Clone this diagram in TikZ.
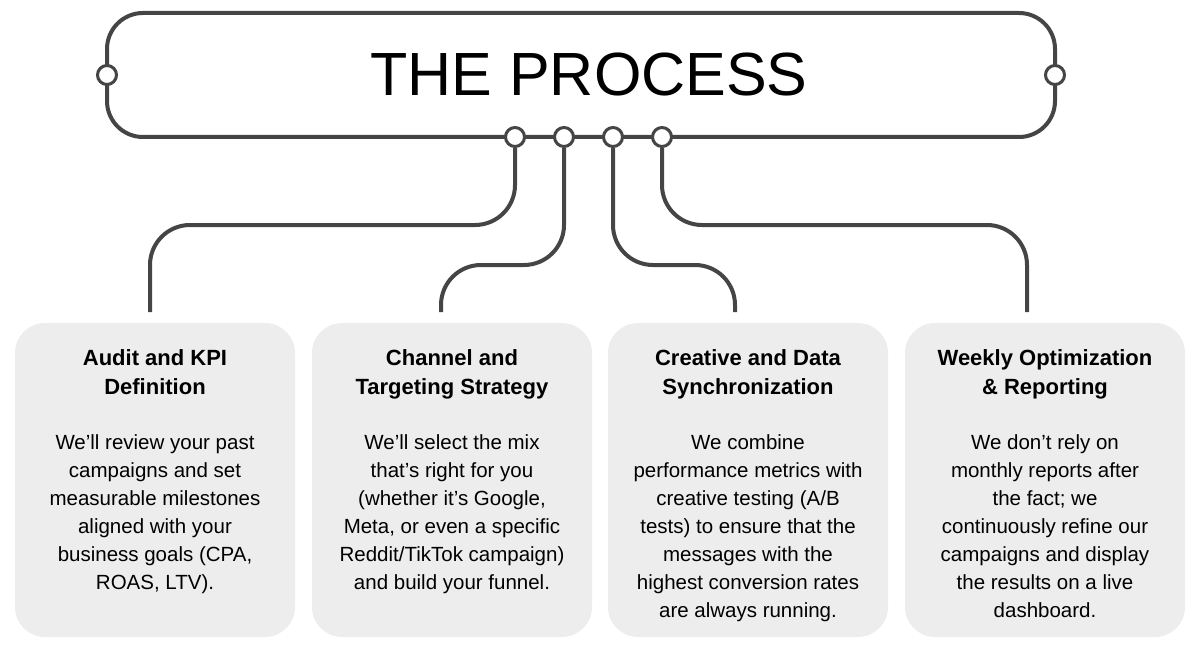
\documentclass[tikz,border=0pt]{standalone}
\usepackage{fontspec}
\setmainfont{Liberation Sans}
\usetikzlibrary{calc}
\definecolor{linegray}{HTML}{454545}
\definecolor{cardgray}{HTML}{EDEDED}
\tikzset{
  conn/.style={draw=linegray,line width=4pt,rounded corners=40pt},
  knob/.style={circle,draw=linegray,line width=3pt,fill=white,minimum size=19pt,inner sep=0pt},
  card/.style={fill=cardgray,rounded corners=30pt,minimum width=280pt,minimum height=314pt,inner sep=0pt},
  cardtext/.style={align=center,font=\fontsize{20.5}{28}\selectfont},
  cardhead/.style={align=center,font=\bfseries\fontsize{22}{29}\selectfont}
}
\begin{document}
\begin{tikzpicture}[x=1pt,y=-1pt]
    \useasboundingbox (0,0) rectangle (1200,650);
    % title bar
    \draw [draw=linegray,line width=4pt,rounded corners=36pt] (107,13) rectangle (1055,137);
    \node [font=\fontsize{61}{61}\selectfont] (title) at (589,75) {THE PROCESS};
    \node [knob] (kl) at (107,75) {};
    \node [knob] (kr) at (1055,75) {};
    \node [knob] (k1) at (515,137) {};
    \node [knob] (k2) at (564,137) {};
    \node [knob] (k3) at (613,137) {};
    \node [knob] (k4) at (662,137) {};

    % cards
    \node [card] (b1) at (155,480) {};
    \node [card] (b2) at (452,480) {};
    \node [card] (b3) at (748,480) {};
    \node [card] (b4) at (1045,480) {};

    \coordinate (e1) at (150,312);
    \coordinate (e2) at (441,312);
    \coordinate (e3) at (735,312);
    \coordinate (e4) at (1027,312);

    \draw [conn] (k1.south) -- (k1.south |- 0,225) -- (e1 |- 0,225) -- (e1);
    \draw [conn] (k2.south) -- (k2.south |- 0,265) -- (e2 |- 0,265) -- (e2);
    \draw [conn] (k3.south) -- (k3.south |- 0,265) -- (e3 |- 0,265) -- (e3);
    \draw [conn] (k4.south) -- (k4.south |- 0,225) -- (e4 |- 0,225) -- (e4);

    % texts
    \node [cardhead,anchor=north] (h1) at (b1.north |- 0,346) {Audit and KPI\\Definition};
    \node [cardhead,anchor=north] (h2) at (b2.north |- 0,346) {Channel and\\Targeting Strategy};
    \node [cardhead,anchor=north] (h3) at (b3.north |- 0,346) {Creative and Data\\Synchronization};
    \node [cardhead,anchor=north] (h4) at (b4.north |- 0,346) {Weekly Optimization\\\& Reporting};

    \node [cardtext,anchor=north] (t1) at (b1.north |- 0,431) {We'll review your past\\campaigns and set\\measurable milestones\\aligned with your\\business goals (CPA,\\ROAS, LTV).};
    \node [cardtext,anchor=north] (t2) at (b2.north |- 0,431) {We’ll select the mix\\that’s right for you\\(whether it’s Google,\\Meta, or even a specific\\Reddit/TikTok campaign)\\and build your funnel.};
    \node [cardtext,anchor=north] (t3) at (b3.north |- 0,431) {We combine\\performance metrics with\\creative testing (A/B\\tests) to ensure that the\\messages with the\\highest conversion rates\\are always running.};
    \node [cardtext,anchor=north] (t4) at (b4.north |- 0,431) {We don’t rely on\\monthly reports after\\the fact; we\\continuously refine our\\campaigns and display\\the results on a live\\dashboard.};
\end{tikzpicture}
\end{document}
